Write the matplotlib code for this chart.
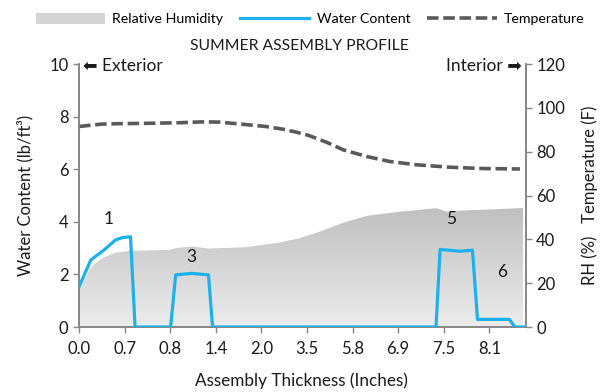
import matplotlib
matplotlib.use("Agg")
import matplotlib.pyplot as plt
import numpy as np
from matplotlib.patches import Patch, Polygon
from matplotlib.lines import Line2D

plt.rcParams["font.family"] = ["Lato", "DejaVu Sans"]

# x positions are in category-label units (0 = "0.0", 1 = "0.7", ...)
tick_labels = ["0.0", "0.7", "0.8", "1.4", "2.0", "3.5", "5.8", "6.9", "7.5", "8.1"]

wc_x = [0.0, 0.26, 0.55, 0.80, 0.95, 1.13, 1.23, 2.01, 2.12, 2.47, 2.84, 2.93,
        7.83, 7.92, 8.36, 8.63, 8.74, 9.44, 9.56, 9.76]
wc_y = [1.53, 2.55, 2.93, 3.31, 3.40, 3.43, 0.0, 0.0, 1.98, 2.04, 1.98, 0.0,
        0.0, 2.95, 2.88, 2.92, 0.29, 0.29, 0.0, 0.0]

rh_x = [0.0, 0.15, 0.29, 0.51, 0.80, 1.10, 1.97, 2.19, 2.49, 2.85, 3.65, 4.39,
        4.85, 5.28, 5.80, 6.31, 7.04, 7.84, 8.06, 8.36, 9.09, 9.74]
rh_y = [16.9, 23.0, 27.9, 31.4, 33.9, 34.7, 35.2, 36.2, 36.7, 35.8, 36.4, 38.5,
        40.6, 43.5, 47.6, 50.7, 52.6, 54.2, 52.6, 53.1, 53.7, 54.3]

temp_x = [0.0, 0.51, 0.95, 1.68, 2.19, 2.70, 3.07, 3.44, 3.80, 4.09, 4.46, 4.75,
          5.04, 5.43, 5.80, 6.31, 6.82, 7.41, 8.14, 8.87, 9.67]
temp_y = [91.5, 92.6, 92.8, 93.0, 93.2, 93.6, 93.5, 92.8, 92.1, 91.5, 90.3, 89.0,
          87.4, 84.3, 80.8, 77.8, 75.5, 74.0, 72.9, 72.3, 72.1]

layer_labels = ["1", "3", "5", "6"]
layer_x = [0.64, 2.47, 8.15, 9.27]
layer_y = [4.1, 2.67, 4.1, 2.1]

BLUE = "#1cb1ec"
GRAY = "#868686"
INK = "#1a1a1a"

fig = plt.figure(figsize=(6.1, 3.92), dpi=100)
ax = fig.add_axes([0.1295, 0.1658, 0.7325, 0.6709])
ax2 = ax.twinx()
ax.set_zorder(ax2.get_zorder() + 1)
ax.patch.set_visible(False)

# RH area with vertical gradient
poly_xy = np.column_stack([[rh_x[0]] + rh_x + [rh_x[-1]], [0] + rh_y + [0]])
poly = Polygon(poly_xy, closed=True, facecolor="none", edgecolor="none")
ax2.add_patch(poly)
grad = np.linspace(0, 1, 256).reshape(-1, 1)
cmap = matplotlib.colors.LinearSegmentedColormap.from_list("g", ["#ececec", "#bcbcbc"])
im = ax2.imshow(grad, extent=[0, 9.8, 0, 58], origin="lower", aspect="auto",
                cmap=cmap, zorder=1)
im.set_clip_path(poly)

ax2.plot(temp_x, temp_y, color="#595959", lw=2.6, dashes=(3.2, 1.3), zorder=3)
ax.plot(wc_x, wc_y, color=BLUE, lw=2.3, solid_joinstyle="round", zorder=4)

for t, x, y in zip(layer_labels, layer_x, layer_y):
    ax.text(x, y, t, fontsize=12.5, ha="center", va="center", color=INK)

ax.set_xlim(0, 9.8)
ax.set_ylim(0, 10)
ax2.set_ylim(0, 120)
ax.set_xticks(range(len(tick_labels)))
ax.set_xticklabels(tick_labels)
ax.set_yticks(range(0, 11, 2))
ax2.set_yticks(range(0, 121, 20))

for a in (ax, ax2):
    a.spines["top"].set_visible(False)
    for s in ("left", "right", "bottom"):
        a.spines[s].set_color(GRAY)
        a.spines[s].set_linewidth(1.2)
    a.tick_params(colors=GRAY, labelcolor=INK, labelsize=12, length=4, width=1)
ax.tick_params(axis="x", pad=6)

fig.text(25 / 610, 1 - 195 / 392, "Water Content (lb/ft³)", rotation=90, fontsize=12,
         ha="center", va="center", color=INK)
fig.text(590 / 610, 1 - 195 / 392, "RH (%)   Temperature (F)", rotation=90, fontsize=12,
         ha="center", va="center", color=INK)
fig.text(301 / 610, 1 - 381 / 392, "Assembly Thickness (Inches)", fontsize=12.3,
         ha="center", va="center", color=INK)
fig.text(299 / 610, 1 - 46 / 392, "SUMMER ASSEMBLY PROFILE", fontsize=11.3,
         ha="center", va="center", color=INK)
fig.text(83 / 610, 1 - 66 / 392, "⬅ Exterior", fontsize=12.5, ha="left", va="center",
         color=INK)
fig.text(522 / 610, 1 - 66 / 392, "Interior ➡", fontsize=12.5, ha="right", va="center",
         color=INK)

handles = [Patch(facecolor="#d4d4d4", edgecolor="none"),
           Line2D([], [], color=BLUE, lw=2.3),
           Line2D([], [], color="#595959", lw=2.6, dashes=(3.2, 1.3))]
fig.legend(handles, ["Relative Humidity", "Water Content", "Temperature"],
           loc="upper center", bbox_to_anchor=(0.508, 1.0), ncol=3, frameon=False,
           fontsize=10.2, handlelength=4.9, handleheight=0.8, columnspacing=1.2,
           handletextpad=0.5)

fig.savefig("out.png", dpi=100)
